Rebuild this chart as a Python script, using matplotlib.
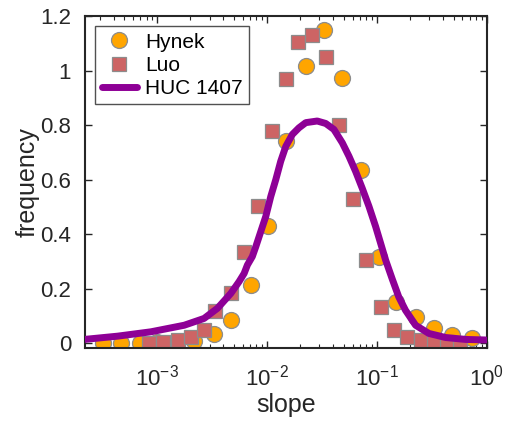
import matplotlib
matplotlib.use("Agg")
import matplotlib.pyplot as plt
import numpy as np

plt.rcParams['font.family'] = ['Liberation Sans', 'DejaVu Sans']
plt.rcParams['mathtext.default'] = 'regular'

# Hynek data (circles)
hynek_slope = [3.2e-4, 4.7e-4, 6.9e-4, 1.0e-3, 1.48e-3, 2.17e-3, 3.3e-3, 4.7e-3,
               7.1e-3, 1.03e-2, 1.48e-2, 2.25e-2, 3.3e-2, 4.8e-2, 7.1e-2, 0.104,
               0.148, 0.227, 0.33, 0.48, 0.73]
hynek_freq = [0.002, 0.002, 0.002, 0.003, 0.005, 0.01, 0.035, 0.085,
              0.213, 0.43, 0.74, 1.017, 1.148, 0.974, 0.637, 0.318,
              0.152, 0.097, 0.056, 0.029, 0.021]

# Luo data (squares)
luo_slope = [8.5e-4, 1.12e-3, 1.53e-3, 2.04e-3, 2.69e-3, 3.39e-3, 4.68e-3, 6.17e-3,
             8.3e-3, 1.1e-2, 1.48e-2, 1.91e-2, 2.55e-2, 3.41e-2, 4.52e-2, 6.05e-2,
             7.9e-2, 0.108, 0.143, 0.189, 0.251, 0.331, 0.437, 0.575]
luo_freq = [0.001, 0.005, 0.013, 0.023, 0.048, 0.12, 0.185, 0.336,
            0.504, 0.78, 0.968, 1.103, 1.131, 1.05, 0.799, 0.529,
            0.305, 0.134, 0.048, 0.023, 0.011, 0.005, 0.003, 0.002]

# HUC 1407 curve
huc_slope = [2.17e-4, 4.36e-4, 8.77e-4, 1.76e-3, 2.67e-3, 3.53e-3, 4.68e-3, 5.56e-3,
             6.18e-3, 6.62e-3, 7.34e-3, 7.89e-3, 8.77e-3, 9.73e-3, 1.08e-2, 1.2e-2,
             1.33e-2, 1.48e-2, 1.70e-2, 1.95e-2, 2.25e-2, 2.86e-2, 3.42e-2, 4.06e-2,
             4.84e-2, 5.56e-2, 6.4e-2, 7.34e-2, 8.46e-2, 9.73e-2, 0.108, 0.12,
             0.138, 0.158, 0.182, 0.225, 0.297, 0.422, 0.64, 0.973]
huc_freq = [0.014, 0.026, 0.042, 0.066, 0.091, 0.128, 0.183, 0.226,
            0.256, 0.287, 0.318, 0.354, 0.41, 0.465, 0.538, 0.60,
            0.667, 0.722, 0.766, 0.79, 0.809, 0.815, 0.806, 0.784,
            0.735, 0.686, 0.63, 0.569, 0.502, 0.428, 0.367, 0.305,
            0.235, 0.17, 0.121, 0.066, 0.036, 0.021, 0.014, 0.012]

fig = plt.figure(figsize=(5.06, 4.22), dpi=100)
ax = fig.add_axes([0.168, 0.175, 0.794, 0.787])

ax.plot(hynek_slope, hynek_freq, 'o', ms=11.5, mfc='#ffa500', mec='#8c8c8c',
        mew=0.9, label='Hynek', zorder=2)
ax.plot(luo_slope, luo_freq, 's', ms=9.5, mfc='#cd6464', mec='#8c8c8c',
        mew=0.9, label='Luo', zorder=2)
ax.plot(huc_slope, huc_freq, '-', color='#8e0096', lw=5, label='HUC 1407',
        zorder=3, solid_capstyle='round', solid_joinstyle='round')

ax.set_xscale('log')
ax.set_xlim(2.2e-4, 1.0)
ax.set_ylim(-0.018, 1.2)
ax.set_yticks([0, 0.2, 0.4, 0.6, 0.8, 1.0, 1.2])
ax.set_yticklabels(['0', '0.2', '0.4', '0.6', '0.8', '1', '1.2'])
ax.set_xticks([1e-3, 1e-2, 1e-1, 1])

ax.tick_params(which='both', direction='in', top=True, right=True,
               colors='#262626', labelsize=16)
ax.tick_params(which='major', length=5, width=1)
ax.tick_params(which='minor', length=3, width=0.8)
ax.tick_params(axis='x', pad=12)
ax.tick_params(axis='y', pad=10)
for s in ax.spines.values():
    s.set_linewidth(1.5)
    s.set_color('#262626')

ax.set_xlabel('slope', fontsize=18, color='#262626', labelpad=2)
ax.set_ylabel('frequency', fontsize=18, color='#262626', labelpad=0)

leg = ax.legend(loc='upper left', fontsize=15, frameon=True, fancybox=False,
                edgecolor='#262626', handlelength=1.7, borderpad=0.3,
                labelspacing=0.2, handletextpad=0.4, borderaxespad=0.5)
leg.get_frame().set_linewidth(1.0)

fig.savefig('out.png', dpi=100)
